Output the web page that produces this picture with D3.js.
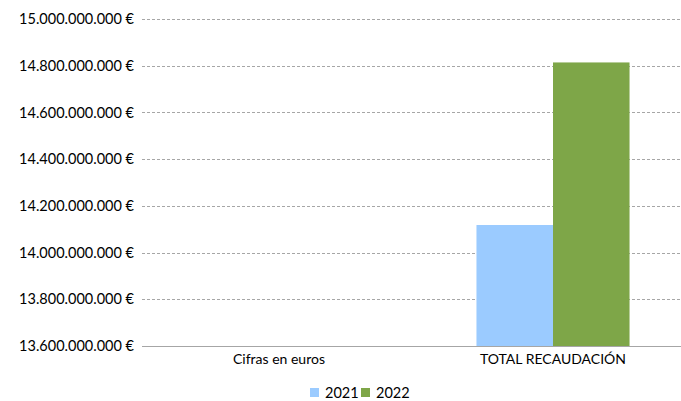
<!DOCTYPE html>
<html>
<head>
<meta charset="utf-8">
<script src="https://cdn.jsdelivr.net/npm/d3@7"></script>
<style>
  body { margin: 0; background: #fff; }
  svg { display: block; font-family: Lato, "Open Sans", sans-serif; }
</style>
</head>
<body>
<svg id="chart" width="681" height="401"></svg>
<script>
const categories = ["Cifras en euros", "TOTAL RECAUDACIÓN"];
const years = ["2021", "2022"];
const values2021 = [null, 14118000000];
const values2022 = [null, 14814000000];
const yTicks = [13600000000, 13800000000, 14000000000, 14200000000, 14400000000, 14600000000, 14800000000, 15000000000];
const colors = ["#9bcbff", "#7ea648"];

const svg = d3.select("#chart");
const margin = { top: 19, bottom: 346, left: 142, right: 690 };

const x = d3.scaleBand()
  .domain(categories)
  .range([margin.left, margin.right]);

const xInner = d3.scaleBand()
  .domain(years)
  .range([0, x.bandwidth()])
  .paddingOuter(0.79)
  .paddingInner(0);

const y = d3.scaleLinear()
  .domain([13600000000, 15000000000])
  .range([margin.bottom, margin.top]);

const fmt = v => d3.format(",")(v).replace(/,/g, ".") + " €";

// gridlines
svg.append("g")
  .selectAll("line")
  .data(yTicks.slice(1))
  .join("line")
  .attr("x1", margin.left)
  .attr("x2", 681)
  .attr("y1", d => Math.round(y(d)) + 0.5)
  .attr("y2", d => Math.round(y(d)) + 0.5)
  .attr("stroke", "#a6a6a6")
  .attr("stroke-width", 1)
  .attr("stroke-dasharray", "3,2");

// y tick labels
svg.append("g")
  .selectAll("text")
  .data(yTicks)
  .join("text")
  .attr("x", 134)
  .attr("y", d => y(d))
  .attr("dy", "0.35em")
  .attr("text-anchor", "end")
  .style("font-size", "14.5px")
  .style("fill", "#000")
  .text(fmt);

// bars
const rows = categories.map((c, i) => ({ cat: c, vals: [values2021[i], values2022[i]] }));
rows.forEach(r => {
  r.vals.forEach((v, j) => {
    if (v == null) return;
    svg.append("rect")
      .attr("x", x(r.cat) + xInner(years[j]))
      .attr("y", y(v))
      .attr("width", xInner.bandwidth())
      .attr("height", y(13600000000) - y(v))
      .attr("fill", colors[j]);
  });
});

// x axis line
svg.append("line")
  .attr("x1", margin.left)
  .attr("x2", 681)
  .attr("y1", margin.bottom + 0.5)
  .attr("y2", margin.bottom + 0.5)
  .attr("stroke", "#a6a6a6");

// category labels
svg.append("g")
  .selectAll("text")
  .data(categories)
  .join("text")
  .attr("x", d => x(d) + x.bandwidth() / 2)
  .attr("y", 359)
  .attr("dy", "0.35em")
  .attr("text-anchor", "middle")
  .style("font-size", "14px")
  .style("fill", "#000")
  .text(d => d);

// legend
const legend = svg.append("g").attr("transform", "translate(310,393)");
const legendX = [0, 51];
years.forEach((yr, i) => {
  legend.append("rect")
    .attr("x", legendX[i])
    .attr("y", -5)
    .attr("width", 9)
    .attr("height", 9)
    .attr("fill", colors[i]);
  legend.append("text")
    .attr("x", legendX[i] + 15)
    .attr("y", 0)
    .attr("dy", "0.35em")
    .style("font-size", "14.5px")
    .style("fill", "#000")
    .text(yr);
});
</script>
</body>
</html>
